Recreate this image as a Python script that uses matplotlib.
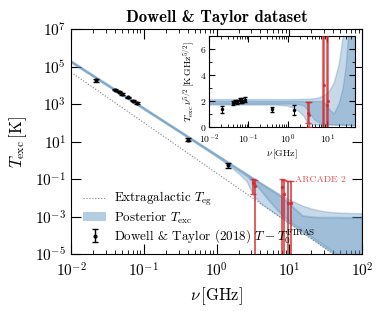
import numpy as np
import matplotlib.pyplot as plt
from matplotlib.patches import Patch
from matplotlib.ticker import NullLocator, AutoMinorLocator, LogLocator

plt.rcParams['font.family'] = 'serif'
plt.rcParams['font.serif'] = ['cmr10']
plt.rcParams['mathtext.fontset'] = 'cm'
plt.rcParams['axes.formatter.use_mathtext'] = True
plt.rcParams['axes.unicode_minus'] = False

# Dowell & Taylor (2018) excess, T - T0(FIRAS) [K]
nu_dt = np.array([0.022, 0.040, 0.045, 0.050, 0.060, 0.070, 0.080, 0.408, 1.42])
T_dt = np.array([1.89e4, 5780, 4540, 3400, 2324, 1543, 1160, 12.8, 0.545])
err_dt = np.array([3760, 470, 350, 270, 200, 150, 110, 1.9, 0.16])

# ARCADE 2 excess [K]
nu_arc = np.array([3.20, 3.41, 7.97, 8.33, 9.72, 10.49])
T_arc = np.array([0.060, 0.044, 0.040, 0.016, 0.0056, 0.0056])
err_arc = np.array([0.044, 0.044, 0.060, 0.075, 0.075, 0.075])

# extragalactic background
nu_eg = np.array([0.01, 100.0])
T_eg = np.array([5.0e4, 8.7e-7])

# posterior bands [K]
nu_post = np.array([0.01, 0.1, 0.5, 1.0, 1.4, 2.0, 2.6, 3.2, 4.0, 5.0, 6.5, 8.0,
                    10, 12, 15, 20, 25, 30, 40, 50, 70, 100])
T_wide_hi = np.array([2.1e5, 664, 11.88, 2.1, 0.906, 0.373, 0.1945, 0.1163, 0.0672,
                      0.0390, 0.0210, 0.01309, 8.13e-3, 5.71e-3, 3.9e-3, 2.68e-3,
                      2.18e-3, 1.93e-3, 1.71e-3, 1.62e-3, 1.55e-3, 1.52e-3])
T_wide_lo = np.array([1.68e5, 531, 9.5, 1.6, 0.621, 0.203, 0.0734, 0.0137, 5.2e-3,
                      2.9e-3, 1.42e-3, 8.1e-4, 4.45e-4, 2.72e-4, 1.5e-4, 6.9e-5,
                      3.8e-5, 2.3e-5, 1.07e-5, 5.9e-6, 2.4e-6, 9.1e-7])
T_core_hi = np.array([1.95e5, 617, 11.03, 1.95, 0.841, 0.345, 0.179, 0.1064, 0.0609,
                      0.0349, 0.0181, 0.01077, 5.06e-3, 2.51e-3, 1.15e-3, 1.0e-3,
                      9.3e-4, 9.3e-4, 9.4e-4, 9.2e-4, 9.1e-4, 9.0e-4])
T_core_lo = np.array([1.75e5, 553, 9.9, 1.75, 0.755, 0.30, 0.147, 0.071, 0.0266,
                      8.9e-3, 2.8e-3, 1.2e-3, 5.6e-4, 3.4e-4, 1.9e-4, 8.6e-5,
                      4.7e-5, 2.9e-5, 1.35e-5, 7.3e-6, 3.0e-6, 1.15e-6])

band_col = '#4682b4'
red = '#d62728'

fig = plt.figure(figsize=(3.82, 3.11), dpi=100)
ax = fig.add_axes([0.186, 0.183, 0.762, 0.7235])

eg_line, = ax.plot(nu_eg, T_eg, ':', color='gray', lw=0.8, zorder=1)
ax.fill_between(nu_post, T_wide_lo, T_wide_hi, color=band_col, alpha=0.3, lw=1,
                zorder=2)
ax.fill_between(nu_post, T_core_lo, T_core_hi, color=band_col, alpha=0.3, lw=1.4,
                zorder=2)
dt = ax.errorbar(nu_dt, T_dt, yerr=err_dt, fmt='.', color='k', ms=4, capsize=2,
                 elinewidth=1, zorder=4)
ax.errorbar(nu_arc, T_arc, yerr=err_arc, fmt='.', color=red, alpha=0.8, ms=3,
            capsize=2.5, elinewidth=1.3, zorder=3)
ax.text(12.0, 0.09, 'ARCADE 2', color=red, alpha=0.8, fontsize=7, va='center')

ax.set_xscale('log')
ax.set_yscale('log')
ax.set_xlim(1e-2, 1e2)
ax.set_ylim(1e-5, 1e7)
ax.set_yticks([1e-5, 1e-3, 1e-1, 1e1, 1e3, 1e5, 1e7])
ax.yaxis.set_minor_locator(NullLocator())
ax.xaxis.set_minor_locator(LogLocator(subs=np.arange(2, 10)))
ax.tick_params(which='both', direction='in', top=True, right=True, labelsize=11)
ax.tick_params(axis='x', pad=5)
ax.tick_params(which='major', length=7)
ax.tick_params(which='minor', length=3)
ax.set_xlabel(r'$\nu\,[{\rm GHz}]$', fontsize=12)
ax.set_ylabel(r'$T_{\rm exc}\,[{\rm K}]$', fontsize=12)
ax.set_title('Dowell & Taylor dataset', fontfamily='cmb10', fontsize=12, pad=5)

handles = [eg_line, Patch(color=band_col, alpha=0.4, lw=0), dt]
labels = [r'Extragalactic $T_{\rm eg}$', r'Posterior $T_{\rm exc}$',
          r'Dowell & Taylor (2018) $T-T_0^{\rm FIRAS}$']
ax.legend(handles, labels, loc='lower left', frameon=False, fontsize=9.4,
          handlelength=1.8, handletextpad=0.6, labelspacing=0.15,
          bbox_to_anchor=(0.0, -0.015))

# inset: T * nu^(5/2)
ins = fig.add_axes([0.547, 0.592, 0.382, 0.2926])
s_post = nu_post ** 2.5
ins.fill_between(nu_post, T_wide_lo * s_post, T_wide_hi * s_post, color=band_col,
                 alpha=0.3)
ins.fill_between(nu_post, T_core_lo * s_post, T_core_hi * s_post, color=band_col,
                 alpha=0.3)
ins.errorbar(nu_dt, T_dt * nu_dt ** 2.5, yerr=err_dt * nu_dt ** 2.5, fmt='.',
             color='k', ms=3, capsize=1.5, elinewidth=0.8, zorder=4)
ins.errorbar(nu_arc, T_arc * nu_arc ** 2.5, yerr=err_arc * nu_arc ** 2.5, fmt='.',
             color=red, alpha=0.8, ms=2.5, capsize=2, elinewidth=1.1, zorder=3)
ins.set_xscale('log')
ins.set_xlim(1e-2, 50)
ins.set_ylim(0, 7)
ins.set_yticks([0, 2, 4, 6])
ins.yaxis.set_minor_locator(AutoMinorLocator(2))
ins.xaxis.set_minor_locator(LogLocator(subs=np.arange(2, 10)))
ins.tick_params(which='both', direction='in', top=True, right=True, labelsize=7,
                pad=2)
ins.tick_params(axis='x', pad=4)
ins.tick_params(which='major', length=4)
ins.tick_params(which='minor', length=2)
ins.set_xlabel(r'$\nu\,[{\rm GHz}]$', fontsize=7, labelpad=1)
ins.set_ylabel(r'$T_{\rm exc}\,\nu^{5/2}\,[{\rm K\,GHz}^{5/2}]$', fontsize=7,
               labelpad=2)

fig.savefig('out.png', dpi=100)
plt.close()
